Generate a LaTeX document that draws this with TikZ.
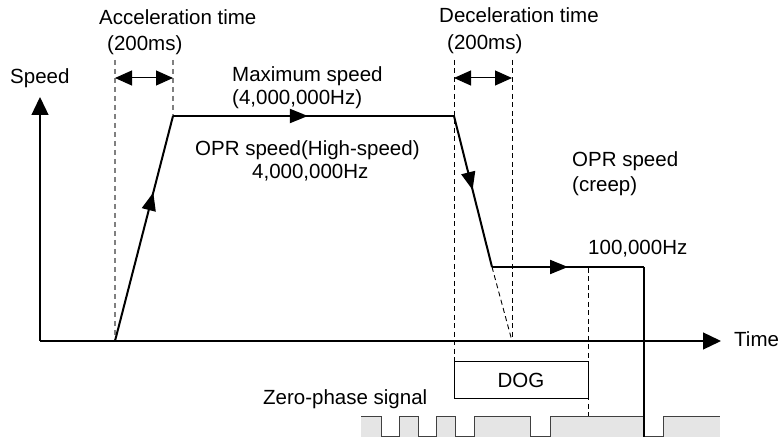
\documentclass[tikz,border=0pt]{standalone}
\usepackage{fontspec}
\setmainfont{Liberation Sans}
\usetikzlibrary{arrows.meta,decorations.markings}
\begin{document}
\begin{tikzpicture}[x=1pt,y=-1pt,
  lbl/.style={font=\fontsize{20.5}{24}\selectfont, inner sep=0pt, anchor=base west},
  axisline/.style={line width=1.3pt, -{Triangle[length=18pt,width=17pt]}},
  profile/.style={line width=2pt, line join=miter},
  dimarrow/.style={line width=1pt, {Triangle[length=17pt,width=15pt]}-{Triangle[length=17pt,width=15pt]}},
  gguide/.style={draw=gray, line width=1.5pt, dash pattern=on 5pt off 4pt},
  bguide/.style={draw=black, line width=0.9pt, dash pattern=on 5pt off 3.5pt},
  midarrow/.style={postaction={decorate}, decoration={markings, mark=at position #1 with {\arrow{Triangle[length=18pt,width=14pt]}}}},
  sigfill/.style={fill=black!10},
  sigline/.style={draw=black!75, line width=1pt},
  dogbox/.style={draw, line width=1pt, minimum width=134pt, minimum height=37pt, inner sep=0pt, font=\fontsize{20.5}{24}\selectfont},
]
\useasboundingbox (0,0) rectangle (780,438);

% key points
\coordinate (O) at (40,341);
\coordinate (Ytop) at (40,97);
\coordinate (Xend) at (721,341);
\coordinate (p0) at (115,341);
\coordinate (p1) at (173,116);
\coordinate (p2) at (454,116);
\coordinate (p3) at (492,267);
\coordinate (p4) at (644,267);
\coordinate (p5) at (644,437);
\coordinate (p3x) at (512,341);
\coordinate (a1) at (115,60);
\coordinate (a2) at (173,60);
\coordinate (d1) at (454,60);
\coordinate (d1b) at (454,362);
\coordinate (d2) at (512,60);
\coordinate (c1) at (588,268);
\coordinate (c2) at (588,417);
\coordinate (aL) at (115,78);
\coordinate (aR) at (173,78);
\coordinate (dL) at (454,78);
\coordinate (dR) at (512,78);

% guides
\draw[gguide] (a1) -- (p0);
\draw[gguide] (a2) -- (p1);
\draw[bguide] (d1) -- (d1b);
\draw[bguide] (d2) -- (p3x);
\draw[bguide] (p3) -- (p3x);
\draw[bguide] (c1) -- (c2);

% time span arrows
\draw[dimarrow] (aL) -- (aR);
\draw[dimarrow] (dL) -- (dR);

% zero-phase signal
\fill[sigfill] (361,417) rectangle (381,437);
\fill[sigfill] (399,417) rectangle (418,437);
\fill[sigfill] (436,417) rectangle (455,437);
\fill[sigfill] (474,417) rectangle (530,437);
\fill[sigfill] (550,417) rectangle (644,437);
\fill[sigfill] (663,417) rectangle (720,437);
\draw[sigline] (361,417) -- (381,417) -- (381,437) -- (399,437) -- (399,417) -- (418,417) -- (418,437) -- (436,437) -- (436,417) -- (455,417) -- (455,437) -- (474,437) -- (474,417) -- (530,417) -- (530,437) -- (550,437) -- (550,417) -- (644,417) -- (644,437) -- (663,437) -- (663,417) -- (720,417);

% axes
\draw[axisline] (O) -- (Ytop);
\draw[axisline] (O) -- (Xend);

% speed profile
\draw[profile, midarrow=0.66] (p0) -- (p1);
\draw[profile, midarrow=0.48] (p1) -- (p2);
\draw[profile, midarrow=0.49] (p2) -- (p3);
\draw[profile, midarrow=0.5] (p3) -- (p4);
\draw[line width=1.8pt] (p4) -- (p5);

% DOG box
\node[dogbox] (dog) at (521,380.5) {DOG};

% labels
\node[lbl] (speed) at (10,84) {Speed};
\node[lbl] (time) at (734,347) {Time};
\node[lbl] (acc) at (99,25) {Acceleration time};
\node[lbl] (acc2) at (107,51) {(200ms)};
\node[lbl] (dec) at (439,23) {Deceleration time};
\node[lbl] (dec2) at (447,50) {(200ms)};
\node[lbl] (max) at (232,82) {Maximum speed};
\node[lbl] (max2) at (232,105) {(4,000,000Hz)};
\node[lbl] (hs) at (195,156) {OPR speed(High-speed)};
\node[lbl] (hs2) at (252,179) {4,000,000Hz};
\node[lbl] (cr) at (572,167) {OPR speed};
\node[lbl] (cr2) at (572,192) {(creep)};
\node[lbl] (cr3) at (588,255) {100,000Hz};
\node[lbl] (zp) at (263,405) {Zero-phase signal};
\end{tikzpicture}
\end{document}
